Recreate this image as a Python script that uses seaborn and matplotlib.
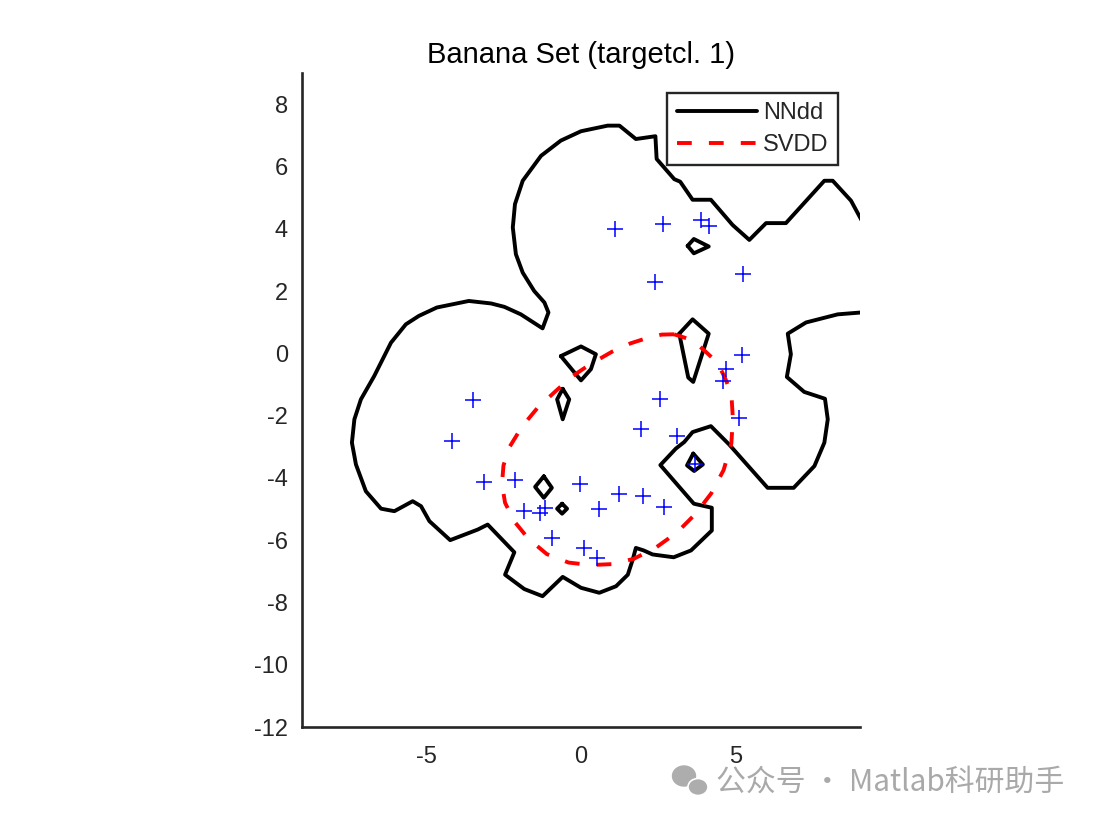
import matplotlib
matplotlib.use("Agg")
import matplotlib.pyplot as plt
import seaborn as sns
import pandas as pd
from matplotlib.lines import Line2D
from matplotlib.patches import Ellipse

# ---------------- data ----------------
title = "Banana Set (targetcl. 1)"
legend_labels = ["NNdd", "SVDD"]
x_ticks = [-5, 0, 5]
y_ticks = [-12, -10, -8, -6, -4, -2, 0, 2, 4, 6, 8]
x_limits = [-9, 9]
y_limits = [-12, 9]

# target objects
target_x = [1.11, 2.63, 3.87, 4.14, 2.39, 5.24, 5.19, 4.68, 4.59, 2.56, 5.11, 1.94, 3.10, 3.68,
            -3.49, -4.17, -3.12, -2.13, -0.02, 1.24, 2.01, 2.69, 0.59, -1.83, -1.31, -1.15,
            -0.94, 0.09, 0.52]
target_y = [3.99, 4.15, 4.29, 4.09, 2.29, 2.54, -0.06, -0.49, -0.89, -1.48, -2.09, -2.44, -2.66,
            -3.54, -1.50, -2.82, -4.14, -4.07, -4.21, -4.53, -4.57, -4.93, -4.99, -5.07, -5.12,
            -4.96, -5.93, -6.25, -6.57]

# NNdd decision boundary (outer curve)
nndd_outer_x = [9.30, 9.03, 8.71, 8.12, 7.85, 6.61, 5.97, 5.43, 4.89, 4.19, 3.60, 3.20, 3.01, 2.44,
                2.40, 1.77, 1.24, 0.86, 0.00, -0.65, -1.29, -1.88, -2.13, -2.20, -2.10, -1.88,
                -1.51, -1.18, -1.05, -1.24, -1.94, -2.47, -2.90, -3.62, -4.65, -5.23, -5.65,
                -6.13, -6.67, -7.10, -7.31, -7.39, -7.26, -6.94, -6.45, -6.02, -5.43, -5.16,
                -4.89, -4.22, -3.33, -3.01, -2.15, -2.45, -1.83, -1.24, -0.59, 0.00, 0.59, 1.13,
                1.51, 1.67, 1.77, 2.02, 2.31, 2.99, 3.55, 4.22, 4.22, 3.64, 2.96, 2.56, 3.06,
                3.33, 3.60, 4.19, 4.78, 6.02, 6.86, 7.53, 7.85, 7.96, 7.87, 7.20, 6.64, 6.77,
                6.67, 7.26, 8.28, 9.03, 9.30]
nndd_outer_y = [3.85, 4.31, 4.90, 5.54, 5.54, 4.18, 4.18, 3.64, 4.12, 4.93, 4.93, 5.51, 5.59, 6.24,
                6.97, 6.88, 7.31, 7.31, 7.13, 6.83, 6.34, 5.54, 4.79, 4.04, 3.18, 2.59, 2.00,
                1.63, 1.31, 0.80, 1.25, 1.49, 1.60, 1.68, 1.47, 1.20, 0.93, 0.34, -0.73, -1.48,
                -2.12, -2.87, -3.57, -4.43, -4.99, -5.07, -4.75, -4.91, -5.39, -6.00, -5.66,
                -5.50, -6.39, -7.11, -7.57, -7.80, -7.18, -7.53, -7.69, -7.48, -7.11, -6.62,
                -6.25, -6.33, -6.46, -6.55, -6.33, -5.69, -4.96, -4.83, -4.05, -3.59, -3.06,
                -2.85, -2.53, -2.34, -2.93, -4.32, -4.32, -3.62, -2.87, -2.12, -1.46, -1.24,
                -0.76, -0.03, 0.63, 0.99, 1.25, 1.31, 1.32]

# NNdd small closed islands
island1_x = [3.44, 3.64, 4.12, 3.64, 3.44]
island1_y = [3.45, 3.67, 3.43, 3.21, 3.45]
island2_x = [3.17, 3.60, 4.12, 3.62, 3.46, 3.17]
island2_y = [0.63, 1.09, 0.63, -0.92, -0.78, 0.63]
island3_x = [-0.65, 0.00, 0.48, 0.32, 0.00, -0.65]
island3_y = [-0.09, 0.22, -0.03, -0.51, -0.87, -0.09]
island4_x = [-0.59, -0.38, -0.59, -0.77, -0.59]
island4_y = [-1.14, -1.48, -2.12, -1.48, -1.14]
island5_x = [-1.20, -0.94, -1.20, -1.48, -1.20]
island5_y = [-3.95, -4.32, -4.64, -4.29, -3.95]
island6_x = [-0.61, -0.45, -0.61, -0.77, -0.61]
island6_y = [-4.83, -4.99, -5.15, -4.99, -4.83]
island7_x = [3.62, 3.93, 3.65, 3.42, 3.62]
island7_y = [-3.22, -3.57, -3.78, -3.60, -3.22]

# SVDD decision boundary
svdd_x = [3.00, 2.60, 2.10, 1.60, 1.00, 0.30, -0.30, -0.80, -1.40, -1.90, -2.30, -2.50, -2.55,
          -2.45, -2.15, -1.70, -1.10, -0.40, 0.30, 1.00, 1.70, 2.40, 3.10, 3.70, 4.20, 4.60,
          4.85, 4.90, 4.85, 4.65, 4.40, 4.00, 3.60, 3.00]
svdd_y = [0.61, 0.60, 0.48, 0.32, 0.05, -0.35, -0.75, -1.20, -1.75, -2.35, -3.00, -3.60, -4.20,
          -4.80, -5.40, -5.95, -6.45, -6.72, -6.80, -6.77, -6.60, -6.25, -5.75, -5.15, -4.50,
          -3.75, -2.90, -2.10, -1.30, -0.80, -0.30, 0.07, 0.42, 0.61]

# ---------------- frames ----------------
pieces = [(nndd_outer_x, nndd_outer_y), (island1_x, island1_y), (island2_x, island2_y),
          (island3_x, island3_y), (island4_x, island4_y), (island5_x, island5_y),
          (island6_x, island6_y), (island7_x, island7_y)]
rows = []
for pid, (px, py) in enumerate(pieces):
    for i, (a, b) in enumerate(zip(px, py)):
        rows.append({"x": a, "y": b, "piece": pid, "order": i})
nndd_df = pd.DataFrame(rows)
svdd_df = pd.DataFrame({"x": svdd_x, "y": svdd_y, "order": range(len(svdd_x))})
pts_df = pd.DataFrame({"x": target_x, "y": target_y})

# ---------------- style ----------------
sns.set_theme(style="white")
plt.rcParams["font.family"] = ["Liberation Sans", "DejaVu Sans"]
dark = "#262626"
lw = 2.8
dash = (0, (3.8, 4.4))

fig = plt.figure(figsize=(11.03, 8.25), dpi=100)
fig.patch.set_facecolor("white")
ax = fig.add_axes([302 / 1103, 98 / 825, 558 / 1103, 654 / 825])
ax.set_facecolor("white")

sns.lineplot(data=nndd_df, x="x", y="y", units="piece", estimator=None, sort=False,
             color="black", linewidth=lw, ax=ax, legend=False)
sns.lineplot(data=svdd_df, x="x", y="y", estimator=None, sort=False,
             color="red", linewidth=lw, ax=ax, legend=False, linestyle=dash)
sns.scatterplot(data=pts_df, x="x", y="y", marker="+", color="blue", s=120,
                linewidth=1.1, ax=ax, legend=False, zorder=3)

ax.set_xlim(*x_limits)
ax.set_ylim(*y_limits)
ax.set_xticks(x_ticks)
ax.set_yticks(y_ticks)
ax.set_xticklabels([str(t) for t in x_ticks])
ax.set_yticklabels([str(t) for t in y_ticks])
ax.set_xlabel("")
ax.set_ylabel("")
for s in ["top", "right"]:
    ax.spines[s].set_visible(False)
for s in ["left", "bottom"]:
    ax.spines[s].set_color(dark)
    ax.spines[s].set_linewidth(1.9)
ax.tick_params(axis="both", direction="in", length=5, width=1.5, color=dark,
               labelcolor=dark, labelsize=17)
ax.tick_params(axis="x", pad=14)
ax.tick_params(axis="y", pad=10)
ax.set_title(title, fontsize=21, color="black", pad=7)

handles = [Line2D([0], [0], color="black", lw=lw),
           Line2D([0], [0], color="red", lw=lw, linestyle=dash)]
leg = ax.legend(handles, legend_labels, loc="upper right",
                bbox_to_anchor=((838 - 302) / 558, (727 - 93) / 654),
                borderaxespad=0, fontsize=17, handlelength=3.4, handletextpad=0.25,
                borderpad=0.4, labelspacing=0.4, fancybox=False, framealpha=1)
leg.get_frame().set_edgecolor(dark)
leg.get_frame().set_linewidth(1.7)

# watermark
fig.text(716 / 1103, 1 - 782 / 825, "公众号 · Matlab科研助手", fontsize=21.5, color="#a9a9a9",
         va="center", ha="left", family=["Noto Sans CJK SC", "DejaVu Sans"])
icon_gray = "#adadad"
fig.patches.append(Ellipse((684 / 1103, 1 - 776 / 825), 23 / 1103, 20 / 825,
                           transform=fig.transFigure, color=icon_gray))
fig.patches.append(Ellipse((698 / 1103, 1 - 787 / 825), 20 / 1103, 17 / 825,
                           transform=fig.transFigure, color=icon_gray, ec="white", lw=1.2))

fig.savefig("out.png", dpi=100, facecolor="white")
